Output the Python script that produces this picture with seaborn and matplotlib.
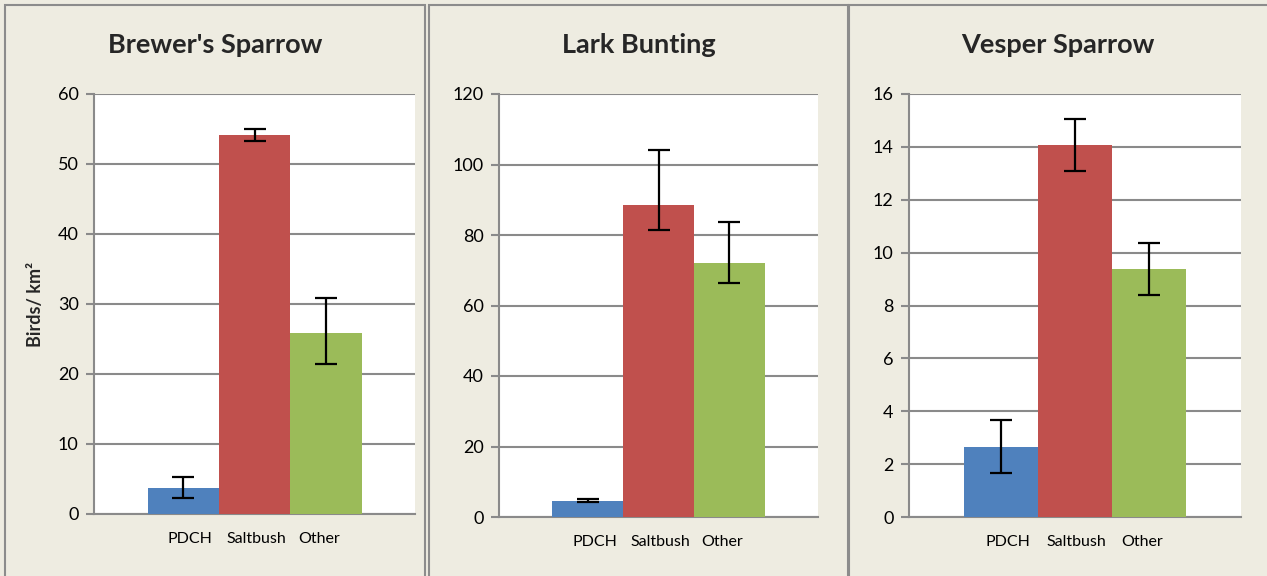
import matplotlib
matplotlib.use("Agg")
import matplotlib.pyplot as plt
import matplotlib.transforms as mtransforms
import seaborn as sns
import pandas as pd
from matplotlib.patches import Rectangle

# habitat categories and colours
habitats = ["PDCH", "Saltbush", "Other"]
colors = ["#4F81BD", "#C0504D", "#9BBB59"]

titles = ["Brewer's Sparrow", "Lark Bunting", "Vesper Sparrow"]

# mean density with lower / upper error bar ends (birds per km2)
brewers_mean = [3.7, 54.1, 25.9]
brewers_low = [2.3, 53.3, 21.5]
brewers_high = [5.3, 55.0, 30.9]

lark_mean = [4.5, 88.6, 72.1]
lark_low = [4.2, 81.3, 66.5]
lark_high = [5.2, 104.1, 83.8]

vesper_mean = [2.64, 14.06, 9.38]
vesper_low = [1.68, 13.07, 8.38]
vesper_high = [3.67, 15.06, 10.36]

ymax = [60, 120, 16]
ystep = [10, 20, 2]

sns.set_theme(style="white")
plt.rcParams['font.family'] = ['Lato', 'DejaVu Sans']

W, H = 1267, 576
fig = plt.figure(figsize=(W / 100, H / 100), dpi=100)
fig.patch.set_facecolor("#EEECE1")

# panel frames (pixel coords: left, right); last one runs off the right edge
frames = [(5, 425), (429, 848), (849, 1267)]
for x0, x1 in frames:
    w = x1 - x0 + (8 if x1 == W else 0)
    fig.patches.append(Rectangle((x0 / W, -0.05), w / W, 1.05 - 5 / H,
                                 transform=fig.transFigure, facecolor="#EEECE1",
                                 edgecolor="#8C8C8C", linewidth=1.5, zorder=-10))

# plot areas (pixel coords: left, right, top, bottom)
boxes = [(94, 415, 94, 514), (499, 818, 94, 517), (909, 1241, 94, 517)]

series = [
    (brewers_mean, brewers_low, brewers_high),
    (lark_mean, lark_low, lark_high),
    (vesper_mean, vesper_low, vesper_high),
]

grid_col = "#8A8A8A"
# category labels sit slightly pulled toward the middle (in points)
label_shift = [5, 1, -5]

for i, (l, r, t, b) in enumerate(boxes):
    ax = fig.add_axes([l / W, 1 - b / H, (r - l) / W, (b - t) / H], zorder=5)
    mean, low, high = series[i]
    df = pd.DataFrame({"habitat": habitats, "density": mean})
    sns.barplot(data=df, x="habitat", y="density", hue="habitat",
                palette=colors, width=1.0, saturation=1, legend=False,
                linewidth=0, ax=ax, zorder=3)
    yerr = [[m - lo for m, lo in zip(mean, low)], [hi - m for m, hi in zip(mean, high)]]
    ax.errorbar(range(3), mean, yerr=yerr, fmt="none", ecolor="black",
                elinewidth=1.6, capsize=8, capthick=1.6, zorder=4)
    ax.set_xlim(-1.25, 3.25)
    ax.set_ylim(0, ymax[i])
    ax.set_yticks(range(0, ymax[i] + 1, ystep[i]))
    ax.set_facecolor("white")
    ax.yaxis.grid(True, color=grid_col, linewidth=1.5, zorder=1)
    ax.set_axisbelow(True)
    for s in ["top", "right"]:
        ax.spines[s].set_visible(False)
    for s in ["left", "bottom"]:
        ax.spines[s].set_color(grid_col)
        ax.spines[s].set_linewidth(1.5)
    ax.tick_params(axis="y", which="both", left=True, length=6, width=1.5,
                   color=grid_col, labelsize=13, pad=5, labelcolor="black")
    ax.tick_params(axis="x", bottom=False, labelsize=11.5, pad=7, labelcolor="black")
    for lab, dx in zip(ax.get_xticklabels(), label_shift):
        lab.set_transform(lab.get_transform() +
                          mtransforms.ScaledTranslation(dx / 72, 0, fig.dpi_scale_trans))
    ax.set_xlabel("")
    ax.set_ylabel("")
    # title is centred on the panel frame, not on the plot area
    x0, x1 = frames[i]
    fig.text((x0 + x1) / 2 / W, 1 - 53 / H, titles[i], ha="center", va="baseline",
             fontsize=19.5, fontweight="bold")
    if i == 0:
        ax.set_ylabel("Birds/ km²", fontsize=13, fontweight="bold", labelpad=10)

fig.savefig("out.png", dpi=100, facecolor=fig.get_facecolor())
